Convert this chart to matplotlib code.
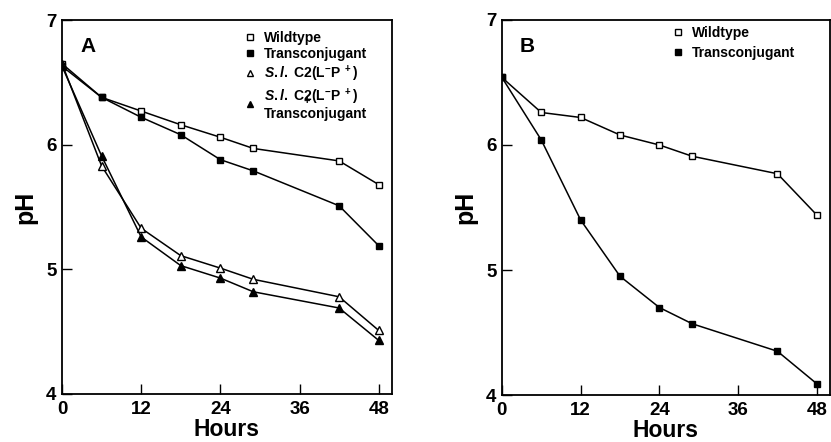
import matplotlib.pyplot as plt

plt.rcParams.update({
    'font.family': ['Liberation Sans', 'DejaVu Sans'],
    'font.weight': 'bold',
    'mathtext.fontset': 'custom',
    'mathtext.rm': 'Liberation Sans:bold',
    'mathtext.it': 'Liberation Sans:bold:italic',
    'mathtext.default': 'rm',
})

# time points (hours)
hours = [0, 6, 12, 18, 24, 29, 42, 48]

# panel A
wild_a = [6.65, 6.38, 6.27, 6.16, 6.06, 5.97, 5.87, 5.68]
trans_a = [6.63, 6.38, 6.22, 6.08, 5.88, 5.79, 5.51, 5.19]
sl_a = [6.65, 5.83, 5.33, 5.11, 5.01, 4.92, 4.78, 4.51]
sl_trans_a = [6.63, 5.91, 5.26, 5.03, 4.93, 4.82, 4.69, 4.43]

# panel B
wild_b = [6.54, 6.26, 6.22, 6.08, 6.00, 5.91, 5.77, 5.44]
trans_b = [6.54, 6.04, 5.40, 4.95, 4.70, 4.57, 4.35, 4.09]

x_ticks = [0, 12, 24, 36, 48]
y_ticks = [4, 5, 6, 7]

sl_label = r"$\mathit{S.l.}$ C2(L$^{-}$P$^{\ +}$)"

fig = plt.figure(figsize=(8.31, 4.42), dpi=100)
ax_a = fig.add_axes([0.0746, 0.1086, 0.397, 0.846])
ax_b = fig.add_axes([0.604, 0.1063, 0.3947, 0.8485])

line_kw = dict(color='black', lw=1.1, markersize=4.8, markeredgewidth=1.0)

ax_a.plot(hours, wild_a, marker='s', mfc='white', mec='black', label='Wildtype', **line_kw)
ax_a.plot(hours, trans_a, marker='s', mfc='black', mec='black', label='Transconjugant', **line_kw)
ax_a.plot(hours, sl_a, marker='^', mfc='white', mec='black', label=sl_label,
          **dict(line_kw, markersize=5.8))
ax_a.plot(hours, sl_trans_a, marker='^', mfc='black', mec='black',
          label=sl_label + "\nTransconjugant", **dict(line_kw, markersize=5.8))

ax_b.plot(hours, wild_b, marker='s', mfc='white', mec='black', label='Wildtype', **line_kw)
ax_b.plot(hours, trans_b, marker='s', mfc='black', mec='black', label='Transconjugant', **line_kw)

for ax, letter in [(ax_a, 'A'), (ax_b, 'B')]:
    ax.set_xlim(0, 50)
    ax.set_ylim(4, 7)
    ax.set_xticks(x_ticks)
    ax.set_yticks(y_ticks)
    ax.tick_params(direction='in', length=7, width=1.0, labelsize=13.5, pad=4)
    ax.tick_params(axis='x', pad=5)
    for lab in ax.get_xticklabels() + ax.get_yticklabels():
        lab.set_fontweight('bold')
    for sp in ax.spines.values():
        sp.set_linewidth(1.3)
    ax.set_xlabel('Hours', fontsize=16.5, fontweight='bold', labelpad=0)
    ax.set_ylabel('pH', fontsize=18, fontweight='bold', labelpad=6)
    ax.text(0.055, 0.955, letter, transform=ax.transAxes, fontsize=15,
            fontweight='bold', va='top', ha='left')

leg_a = ax_a.legend(loc='upper left', bbox_to_anchor=(0.55, 0.972), frameon=False,
                    prop={'size': 10, 'weight': 'bold'}, handlelength=1.0,
                    handletextpad=0.5, labelspacing=0.18, borderpad=0,
                    borderaxespad=0, markerscale=0.85)
for h in leg_a.legend_handles:
    h.set_linestyle('none')
leg_a.get_texts()[3].set_linespacing(1.05)

leg_b = ax_b.legend(loc='upper left', bbox_to_anchor=(0.515, 0.985), frameon=False,
                    prop={'size': 10, 'weight': 'bold'}, handlelength=1.0,
                    handletextpad=0.5, labelspacing=0.45, borderpad=0,
                    borderaxespad=0, markerscale=0.85)
for h in leg_b.legend_handles:
    h.set_linestyle('none')

# the "+" squeezed between the two lines of the last legend entry
fig.canvas.draw()
bb = leg_a.get_texts()[3].get_window_extent()
ax_a.annotate('+', xy=(bb.x0 + 43, (bb.y0 + bb.y1) / 2 + 3), xycoords='figure pixels',
              fontsize=8, fontweight='bold', ha='center', va='center')

fig.savefig('out.png', dpi=100)
